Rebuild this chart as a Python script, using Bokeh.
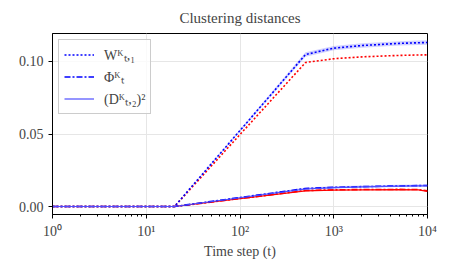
from bokeh.plotting import figure
from bokeh.models import Legend, LegendItem, FixedTicker, Range1d
from bokeh.embed import file_html
from bokeh.resources import INLINE

t = [1, 20, 500, 1000, 2000, 5000, 8000, 10000]
w_blue = [0, 0, 0.1048, 0.1092, 0.1110, 0.1125, 0.1129, 0.1131]
w_red = [0, 0, 0.0993, 0.1019, 0.1032, 0.1042, 0.1045, 0.1046]
phi_blue = [0, 0, 0.0124, 0.0132, 0.0137, 0.0142, 0.0144, 0.0145]
d_blue = [0, 0, 0.0121, 0.0130, 0.0135, 0.0140, 0.0142, 0.0143]
phi_red = [0, 0, 0.0110, 0.0115, 0.0117, 0.0118, 0.0117, 0.0108]
d_red = [0, 0, 0.0108, 0.0113, 0.0115, 0.0116, 0.0115, 0.0104]
w_band = [0, 0, 0.0015, 0.0015, 0.0015, 0.0015, 0.0015, 0.0015]
lo_band = [0, 0, 0.0008, 0.0008, 0.0008, 0.0008, 0.0008, 0.0008]

xticks = [1, 10, 100, 1000, 10000]
xlabels = ["10⁰", "10¹", "10²", "10³", "10⁴"]
yticks = [0.0, 0.05, 0.10]
ylabels = ["0.00", "0.05", "0.10"]

FONT = "Liberation Serif"

p = figure(frame_width=375, frame_height=181, x_axis_type="log", output_backend="svg",
           toolbar_location=None, title="Clustering distances",
           x_range=Range1d(1, 10000), y_range=Range1d(-0.0055, 0.1193),
           min_border_left=52, min_border_right=14, min_border_top=33, min_border_bottom=51)
p.title.align = "center"
p.title.text_font = FONT
p.title.text_font_size = "15px"
p.title.text_font_style = "normal"
p.title.offset = -2
p.title.standoff = 11
p.title.vertical_align = "top"

p.outline_line_color = "black"
p.outline_line_alpha = 1
p.outline_line_width = 1

for ax in (p.xaxis[0], p.yaxis[0]):
    ax.major_label_text_font = FONT
    ax.major_label_text_font_size = "14px"
    ax.axis_line_color = "black"
    ax.major_tick_line_color = "black"
    ax.major_tick_out = 4
    ax.major_tick_in = 0
    ax.axis_label_text_font = FONT
    ax.axis_label_text_font_size = "14px"
    ax.axis_label_text_font_style = "normal"

p.xaxis.ticker = FixedTicker(ticks=xticks, minor_ticks=[k * 10 ** e for e in range(0, 4) for k in range(2, 10)])
p.xaxis.major_label_overrides = {v: l for v, l in zip(xticks, xlabels)}
p.xaxis.minor_tick_line_color = "black"
p.xaxis.minor_tick_out = 2
p.xaxis.minor_tick_in = 0
p.xaxis.major_label_standoff = 5
p.xaxis.axis_label = "Time step (t)"
p.xaxis.axis_label_standoff = 2
p.yaxis.ticker = FixedTicker(ticks=yticks)
p.yaxis.major_label_overrides = {v: l for v, l in zip(yticks, ylabels)}
p.yaxis.minor_tick_line_color = None

p.xgrid.ticker = FixedTicker(ticks=xticks)
p.ygrid.ticker = FixedTicker(ticks=yticks)
p.grid.grid_line_color = "#e6e6e6"
p.grid.grid_line_width = 1

# bands
p.varea(x=t, y1=[a - b for a, b in zip(w_blue, w_band)], y2=[a + b for a, b in zip(w_blue, w_band)],
        fill_color="blue", fill_alpha=0.18)
p.varea(x=t, y1=[a - b for a, b in zip(phi_blue, lo_band)], y2=[a + b for a, b in zip(phi_blue, lo_band)],
        fill_color="blue", fill_alpha=0.18)

# red
p.line(t, w_red, line_color="red", line_width=1.6, line_dash="2 2")
p.line(t, d_red, line_color="red", line_width=1.2)
p.line(t, phi_red, line_color="red", line_width=1.6, line_dash="6 2 2 2")

# blue
r_w = p.line(t, w_blue, line_color="blue", line_width=1.6, line_dash="2 2")
r_phi = p.line(t, phi_blue, line_color="blue", line_width=1.6, line_dash="6 2 2 2")
r_d = p.line(t, d_blue, line_color="#4d4dff", line_width=1.2)

legend = Legend(items=[
    LegendItem(label="Wᴷₜ,₁", renderers=[r_w]),
    LegendItem(label="Φᴷₜ", renderers=[r_phi]),
    LegendItem(label="(Dᴷₜ,₂)²", renderers=[r_d]),
], location="top_left")
legend.label_text_font = FONT
legend.label_text_font_size = "14px"
legend.border_line_color = "#cccccc"
legend.border_line_alpha = 1
legend.background_fill_alpha = 0.8
legend.glyph_width = 30
legend.glyph_height = 19
legend.label_height = 19
legend.spacing = 3
legend.padding = 5
legend.margin = 6
legend.label_standoff = 10
p.add_layout(legend)

open("out.html", "w").write(file_html(p, INLINE))
